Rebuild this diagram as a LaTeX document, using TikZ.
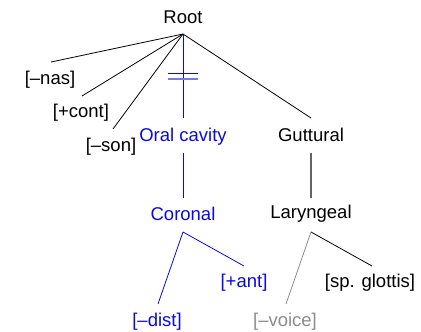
\documentclass[tikz,border=0pt]{standalone}
\usepackage{fontspec}
\setmainfont{Liberation Sans}
\definecolor{featblue}{RGB}{10,10,220}
\definecolor{palegray}{RGB}{140,140,140}
\definecolor{midgray}{RGB}{100,100,100}
\begin{document}
\begin{tikzpicture}[x=1pt,y=-1pt,
  lbl/.style={inner sep=0pt,font=\fontsize{18.5}{22}\selectfont},
  branch/.style={line width=0.8pt}]
\useasboundingbox (0,0) rectangle (421,332);
% node labels
\node[lbl] (root) at (183,17) {Root};
\node[lbl] (nas) at (50,80) {[–nas]};
\node[lbl] (cont) at (81,113) {[+cont]};
\node[lbl] (son) at (111,147) {[–son]};
\node[lbl,text=featblue] (oral) at (183,137) {Oral cavity};
\node[lbl] (gutt) at (311,135) {Guttural};
\node[lbl,text=featblue] (cor) at (183,214) {Coronal};
\node[lbl] (lar) at (311,214) {Laryngeal};
\node[lbl,text=featblue] (ant) at (244,283) {[+ant]};
\node[lbl,text=featblue] (dist) at (157,322) {[–dist]};
\node[lbl] (glot) at (370,283) {[sp. glottis]};
\node[lbl,text=palegray] (voice) at (285,322) {[–voice]};
% attachment points
\coordinate (rootB) at (183,34);
\coordinate (nasT) at (51,62);
\coordinate (contT) at (82,96);
\coordinate (sonT) at (113,129);
\coordinate (oralT) at (183,118);
\coordinate (oralB) at (183,153);
\coordinate (guttT) at (311,118);
\coordinate (guttB) at (311,153);
\coordinate (corT) at (183,198);
\coordinate (corB) at (183,232);
\coordinate (larT) at (311,198);
\coordinate (larB) at (311,232);
\coordinate (antT) at (244,266);
\coordinate (distT) at (158,304);
\coordinate (glotT) at (372,266);
\coordinate (voiceT) at (286,304);
% branches
\draw[branch] (rootB) -- (nasT);
\draw[branch] (rootB) -- (contT);
\draw[branch] (rootB) -- (sonT);
\draw[branch] (rootB) -- (guttT);
\draw[branch,featblue] (rootB) -- (oralT);
\draw[branch,featblue] (oralB) -- (corT);
\draw[line width=1.3pt,midgray] (guttB) -- (larT);
\draw[branch,featblue] (corB) -- (antT);
\draw[branch,featblue] (corB) -- (distT);
\draw[branch] (larB) -- (glotT);
\draw[branch,palegray] (larB) -- (voiceT);
% delinking bars
\draw[line width=1pt,featblue] (168,73.5) -- (198,73.5);
\draw[line width=1.6pt,featblue!55] (168,79) -- (198,79);
\end{tikzpicture}
\end{document}
